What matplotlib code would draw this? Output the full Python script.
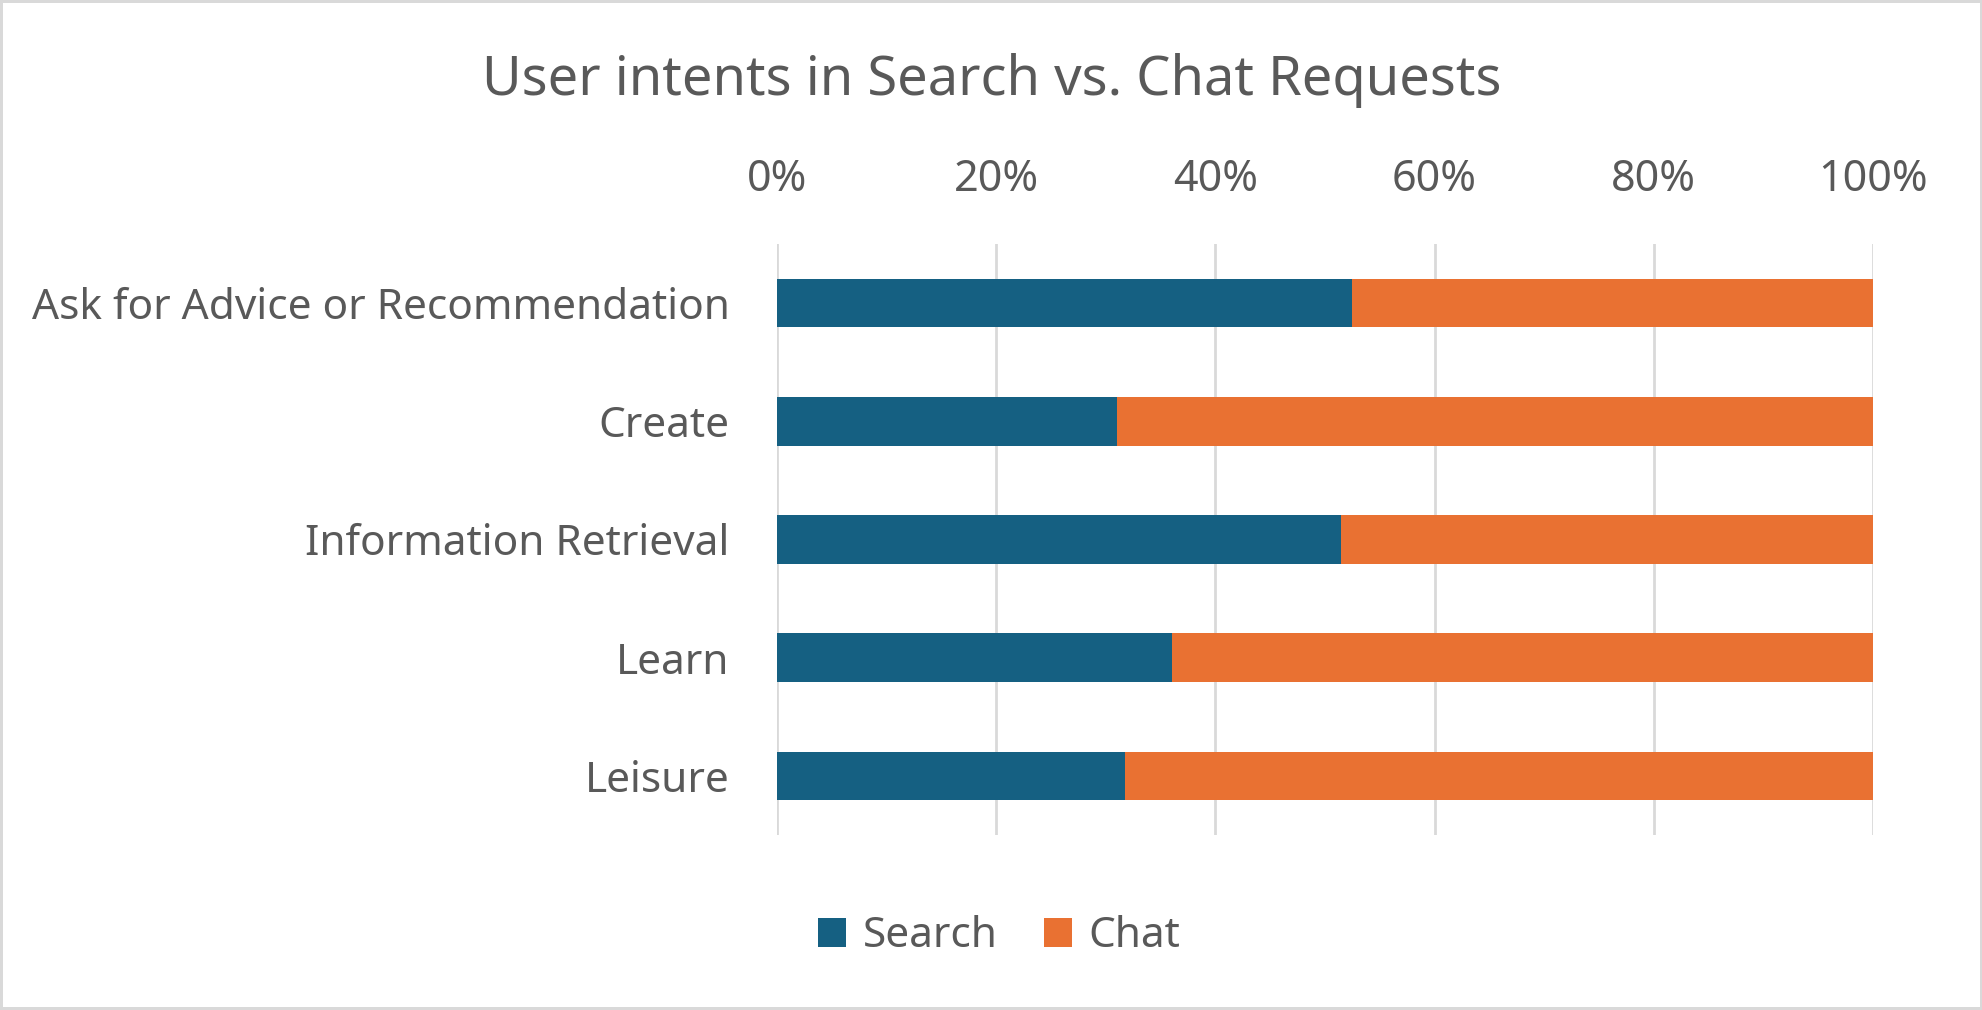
import numpy as np
import matplotlib
matplotlib.use('Agg')
import matplotlib.pyplot as plt
from matplotlib.ticker import PercentFormatter

categories = ['Ask for Advice or Recommendation', 'Create', 'Information Retrieval', 'Learn', 'Leisure']
search_pct = [52.5, 31.0, 51.5, 36.0, 31.8]
chat_pct = [47.5, 69.0, 48.5, 64.0, 68.2]
x_ticks = [0, 20, 40, 60, 80, 100]

BLUE = '#156082'
ORANGE = '#E97132'
TXT = '#595959'
GRID = '#D9D9D9'

plt.rcParams['font.family'] = ['Noto Sans', 'DejaVu Sans']

fig = plt.figure(figsize=(19.83, 10.1), dpi=100)
fig.patch.set_edgecolor(GRID)
fig.patch.set_linewidth(3)
ax = fig.add_axes([0.3918, 0.1733, 0.5527, 0.5851])

y = np.arange(len(categories))
ax.barh(y, search_pct, height=0.41, color=BLUE, label='Search', zorder=2)
ax.barh(y, chat_pct, left=search_pct, height=0.41, color=ORANGE, label='Chat', zorder=2)

ax.set_xlim(0, 100)
ax.set_ylim(len(categories) - 0.5, -0.5)
ax.set_xticks(x_ticks)
ax.xaxis.set_major_formatter(PercentFormatter(100, decimals=0))
ax.xaxis.tick_top()
ax.set_yticks(y)
ax.set_yticklabels(categories)
ax.tick_params(axis='x', length=0, pad=30, labelsize=31, colors=TXT)
ax.tick_params(axis='y', length=0, pad=34, labelsize=30.5, colors=TXT)
ax.grid(axis='x', color=GRID, linewidth=2, zorder=0)
ax.set_axisbelow(True)
for s in ax.spines.values():
    s.set_visible(False)

fig.suptitle('User intents in Search vs. Chat Requests', x=0.5, y=0.948, fontsize=39, color=TXT)
fig.legend(loc='center', bbox_to_anchor=(0.504, 0.073), ncol=2, frameon=False, fontsize=30.5,
           labelcolor=TXT, handlelength=0.65, handleheight=0.65, handletextpad=0.4, columnspacing=1.1)

fig.savefig('out.png', dpi=100)
plt.close(fig)
